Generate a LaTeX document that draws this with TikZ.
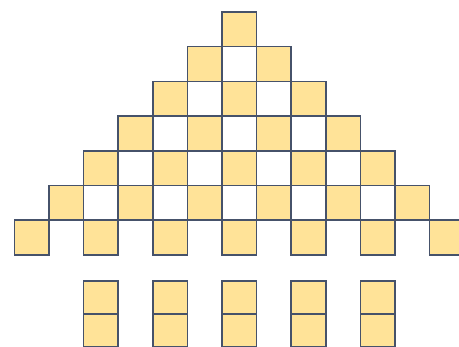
\documentclass[tikz,border=0pt]{standalone}
\usetikzlibrary{positioning}
\definecolor{TileGold}{RGB}{255,227,152}
\definecolor{TileEdge}{RGB}{70,82,106}

\begin{document}
\begin{tikzpicture}[x=1pt, y=-1pt,
    tile/.style={rectangle, draw=TileEdge, fill=TileGold, line width=1.6pt,
                 minimum width=34.6pt, minimum height=34.7pt, inner sep=0pt,
                 outer sep=0pt, anchor=north west},
    stacktile/.style={tile, minimum height=33pt}
  ]
  \useasboundingbox (0,0) rectangle (459,347);
  \clip (0,0) rectangle (459,347);

  % checkered pyramid
  \foreach \r in {0,...,6}{
    \foreach \k in {0,...,\r}{
      \node[tile] (t\r-\k) at ({222+(2*\k-\r)*34.6}, {12+\r*34.7}) {};
    }
  }

  % stacked pairs below
  \foreach \k in {0,...,4}{
    \node[stacktile] (up\k) at ({222+(2*\k-4)*34.6}, 281) {};
    \node[stacktile, below=0pt of up\k] (lo\k) {};
  }
\end{tikzpicture}
\end{document}
